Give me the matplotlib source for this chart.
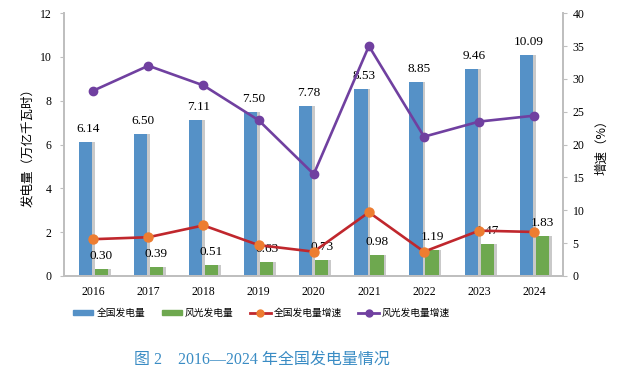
import matplotlib
matplotlib.use("Agg")
import matplotlib.pyplot as plt
import numpy as np
from matplotlib.lines import Line2D
from matplotlib.patches import Patch

years = ["2016", "2017", "2018", "2019", "2020", "2021", "2022", "2023", "2024"]
total_gen = [6.14, 6.50, 7.11, 7.50, 7.78, 8.53, 8.85, 9.46, 10.09]
wind_solar_gen = [0.30, 0.39, 0.51, 0.63, 0.73, 0.98, 1.19, 1.47, 1.83]
total_growth = [5.6, 5.9, 7.7, 4.7, 3.7, 9.7, 3.7, 6.9, 6.7]
wind_solar_growth = [28.2, 32.0, 29.0, 23.7, 15.5, 35.0, 21.2, 23.5, 24.4]

cjk = ["Noto Sans CJK SC", "DejaVu Sans"]
serif = ["Liberation Serif", "Noto Sans CJK SC"]
blue = "#5591c7"
green = "#6ea84f"
red = "#c0272d"
orange = "#ed7d31"
purple = "#7040a0"
gray = "#bfbfbf"

fig = plt.figure(figsize=(6.3, 3.76), dpi=100)
ax = fig.add_axes([0.1016, 0.266, 0.792, 0.699])
ax2 = ax.twinx()

x = np.arange(len(years))
w = 0.24
off = 0.145

# bars with a soft shadow
ax.bar(x - off + 0.05, total_gen, w, color="#888888", alpha=0.45, zorder=1)
ax.bar(x + off + 0.05, wind_solar_gen, w, color="#888888", alpha=0.45, zorder=1)
ax.bar(x - off, total_gen, w, color=blue, zorder=2)
ax.bar(x + off, wind_solar_gen, w, color=green, zorder=2)

for i in range(len(years)):
    ax.annotate(f"{total_gen[i]:.2f}", (x[i] - off + 0.05, total_gen[i]), xytext=(0, 5),
                textcoords="offset points", ha="center", va="bottom",
                family=serif, fontsize=9.5, zorder=5)
    ax.annotate(f"{wind_solar_gen[i]:.2f}", (x[i] + off, wind_solar_gen[i]), xytext=(0, 5),
                textcoords="offset points", ha="center", va="bottom",
                family=serif, fontsize=9.5, zorder=5)

# growth lines (right axis, drawn over the bars)
ax2.plot(x, total_growth, color=red, lw=1.9, marker="o", ms=6.5,
         mfc=orange, mec=orange, zorder=3)
ax2.plot(x, wind_solar_growth, color=purple, lw=1.9, marker="o", ms=6,
         mfc=purple, mec=purple, zorder=3)

ax.set_xlim(-0.53, 8.52)
ax.set_ylim(0, 12)
ax.set_yticks(range(0, 13, 2))
ax2.set_ylim(0, 40)
ax2.set_yticks(range(0, 41, 5))
ax.set_xticks(x)
ax.set_xticklabels(years)

for a in (ax, ax2):
    for s in a.spines.values():
        s.set_color(gray)
        s.set_linewidth(1.3)
    a.spines["top"].set_visible(False)
    for lab in a.get_yticklabels() + a.get_xticklabels():
        lab.set_family(serif)
        lab.set_fontsize(8.5)
ax.tick_params(axis="x", length=0, pad=7)
ax.tick_params(axis="y", length=3, color=gray, pad=6)
ax2.tick_params(axis="y", length=3, color=gray, pad=4)

ax.set_ylabel("发电量（万亿千瓦时）", family=cjk, fontsize=9, labelpad=4)
ax2.set_ylabel("增速（%）", family=cjk, fontsize=9, labelpad=8)

handles = [
    Patch(color=blue),
    Patch(color=green),
    Line2D([], [], color=red, lw=2, marker="o", ms=5, mfc=orange, mec=orange),
    Line2D([], [], color=purple, lw=2, marker="o", ms=5, mfc=purple, mec=purple),
]
labels = ["全国发电量", "风光发电量", "全国发电量增速", "风光发电量增速"]
fig.legend(handles, labels, loc="center", bbox_to_anchor=(0.415, 0.168), ncol=4,
           frameon=False, prop={"family": cjk, "size": 7}, handlelength=2.1,
           handleheight=0.5, columnspacing=1.7, handletextpad=0.3)

fig.text(0.415, 0.043, "图 2\u30002016—2024 年全国发电量情况", ha="center", va="center",
         family=serif, fontsize=11.5, color="#3a8cc4")

fig.savefig("out.png", dpi=100)
